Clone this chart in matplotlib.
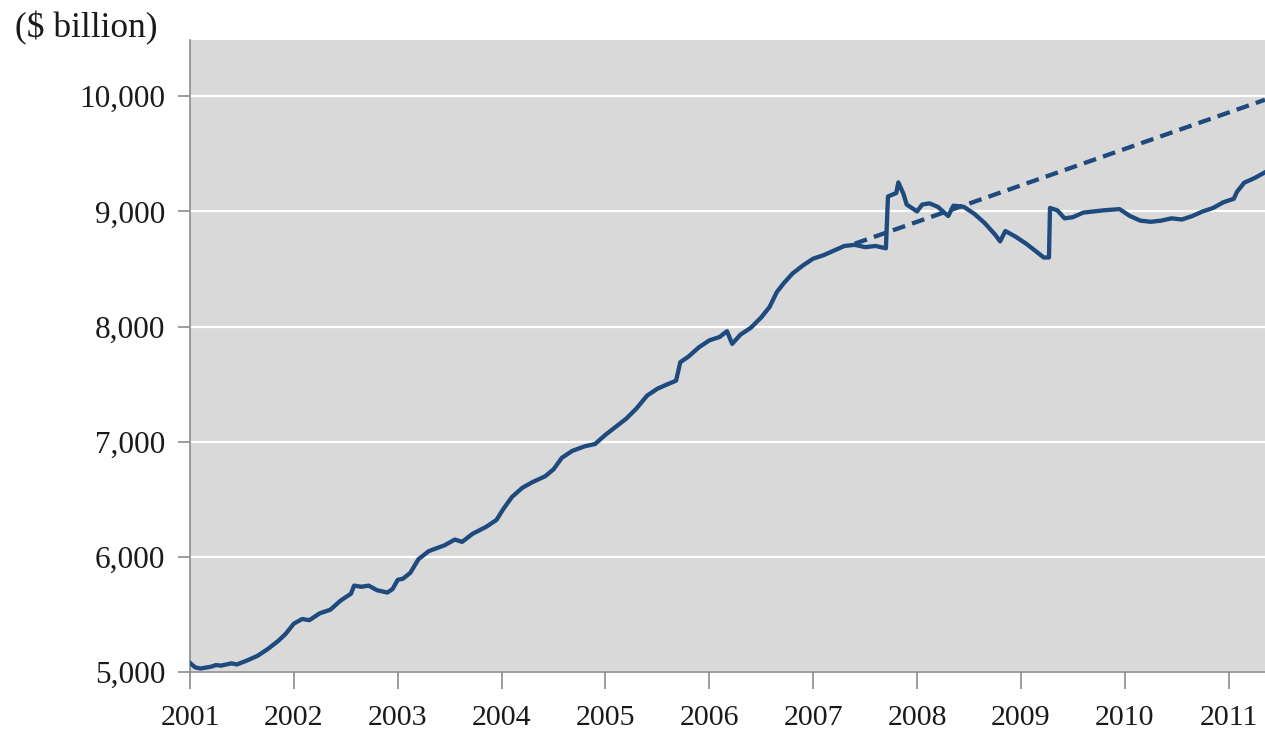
import matplotlib
matplotlib.use("Agg")
from matplotlib import pyplot as plt

# values
years = [2001.00, 2001.05, 2001.10, 2001.20, 2001.25, 2001.30, 2001.40, 2001.45,
         2001.55, 2001.65, 2001.75, 2001.85, 2001.92, 2002.00, 2002.08, 2002.15,
         2002.25, 2002.35, 2002.45, 2002.55, 2002.58, 2002.65, 2002.72, 2002.80,
         2002.90, 2002.95, 2003.00, 2003.05, 2003.12, 2003.20, 2003.30, 2003.45,
         2003.55, 2003.62, 2003.72, 2003.85, 2003.95, 2004.02, 2004.10, 2004.20,
         2004.30, 2004.42, 2004.50, 2004.58, 2004.68, 2004.80, 2004.90, 2005.00,
         2005.10, 2005.20, 2005.30, 2005.40, 2005.50, 2005.60, 2005.68, 2005.72,
         2005.80, 2005.90, 2006.00, 2006.10, 2006.17, 2006.22, 2006.30, 2006.40,
         2006.50, 2006.58, 2006.65, 2006.72, 2006.80, 2006.90, 2007.00, 2007.10,
         2007.20, 2007.30, 2007.40, 2007.50, 2007.60, 2007.70, 2007.72, 2007.80,
         2007.82, 2007.87, 2007.90, 2008.00, 2008.05, 2008.12, 2008.20, 2008.30,
         2008.35, 2008.45, 2008.55, 2008.65, 2008.75, 2008.80, 2008.85, 2008.95,
         2009.05, 2009.15, 2009.22, 2009.27, 2009.28, 2009.35, 2009.42, 2009.50,
         2009.60, 2009.70, 2009.80, 2009.95, 2010.05, 2010.15, 2010.25, 2010.35,
         2010.45, 2010.55, 2010.65, 2010.75, 2010.85, 2010.95, 2011.05, 2011.08,
         2011.15, 2011.25, 2011.35]
values = [5078, 5040, 5030, 5045, 5060, 5055, 5075, 5065,
          5100, 5140, 5200, 5270, 5330, 5420, 5460, 5450,
          5510, 5540, 5620, 5680, 5750, 5740, 5750, 5710,
          5690, 5720, 5800, 5810, 5860, 5980, 6050, 6100,
          6150, 6130, 6200, 6260, 6320, 6420, 6520, 6600,
          6650, 6700, 6760, 6860, 6920, 6960, 6980, 7060,
          7130, 7200, 7290, 7400, 7460, 7500, 7530, 7690,
          7740, 7820, 7880, 7910, 7960, 7850, 7930, 7990,
          8080, 8170, 8300, 8380, 8460, 8530, 8590, 8620,
          8660, 8700, 8710, 8690, 8700, 8680, 9130, 9160,
          9252, 9150, 9060, 9000, 9060, 9070, 9040, 8960,
          9050, 9040, 8980, 8900, 8800, 8740, 8830, 8780,
          8720, 8650, 8600, 8600, 9030, 9010, 8940, 8950,
          8990, 9000, 9010, 9020, 8960, 8920, 8910, 8920,
          8940, 8930, 8960, 9000, 9030, 9080, 9110, 9170,
          9250, 9290, 9340]

trend_years = [2007.40, 2011.35]
trend_values = [8720, 9970]

yticks = [5000, 6000, 7000, 8000, 9000, 10000]
xticks = list(range(2001, 2012))

color = "#1F4A7D"
gray = "#8C8C8C"

fig = plt.figure(figsize=(12.65, 7.36), dpi=100)
ax = fig.add_axes([0.1502, 0.087, 0.8498, 0.8588])
ax.set_facecolor("#D9D9D9")

for y in yticks:
    ax.axhline(y, color="white", lw=1.6, zorder=1)

ax.plot(years, values, color=color, lw=3.1, zorder=3, solid_joinstyle="round")
ax.plot(trend_years, trend_values, color=color, lw=3.1, dashes=(3.0, 1.7), zorder=2)

ax.set_xlim(2001, 2011.35)
ax.set_ylim(5000, 10490)
ax.set_xticks(xticks)
ax.set_yticks(yticks)
ax.set_yticklabels([f"{v:,}" for v in yticks])

for s in ["top", "right"]:
    ax.spines[s].set_visible(False)
for s in ["left", "bottom"]:
    ax.spines[s].set_color(gray)
    ax.spines[s].set_linewidth(1.2)

ax.tick_params(axis="x", direction="out", length=12, width=1.2, color=gray, pad=12)
ax.tick_params(axis="y", direction="out", length=9, width=1.2, color=gray, pad=9)
for lab in ax.get_yticklabels():
    lab.set_fontfamily("Liberation Serif")
    lab.set_fontsize(22.5)
    lab.set_color("#1A1A1A")
for lab in ax.get_xticklabels():
    lab.set_fontfamily("Liberation Serif")
    lab.set_fontsize(21.5)
    lab.set_color("#1A1A1A")

fig.text(0.012, 0.962, "($ billion)", fontfamily="Liberation Serif", fontsize=25.5,
         color="#1A1A1A", va="center", ha="left")

plt.savefig("out.png", dpi=100)
